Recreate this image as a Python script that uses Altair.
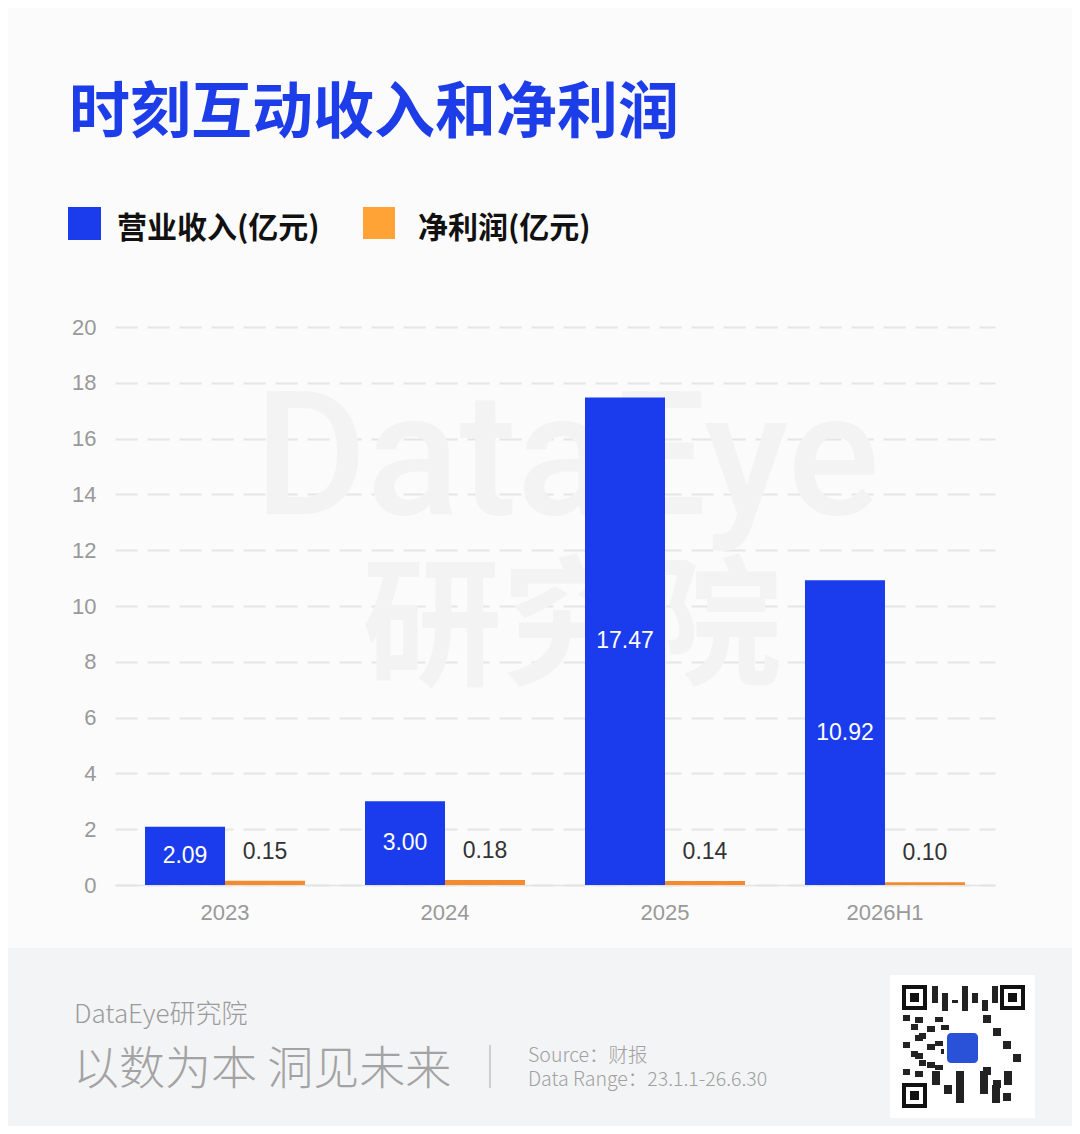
import altair as alt
import pandas as pd

years = ["2023", "2024", "2025", "2026H1"]
revenue = [2.09, 3.00, 17.47, 10.92]
profit = [0.15, 0.18, 0.14, 0.10]
series_names = ["营业收入(亿元)", "净利润(亿元)"]
y_ticks = list(range(0, 21, 2))

title_text = "时刻互动收入和净利润"
footer_brand = "DataEye研究院"
footer_slogan = "以数为本 洞见未来"
footer_source = "Source：财报"
footer_range = "Data Range：23.1.1-26.6.30"

BLUE = "#1a3ced"
ORANGE_BAR = "#f68a2e"
ORANGE_LEG = "#ffa336"
CJK = "Noto Sans CJK SC"
NUM = "Liberation Sans"

rows = []
for y, r, p in zip(years, revenue, profit):
    rows.append({"year": y, "series": series_names[0], "value": r})
    rows.append({"year": y, "series": series_names[1], "value": p})
df = pd.DataFrame(rows)

W, H = 880, 558

x_enc = alt.X("year:N", sort=years,
              scale=alt.Scale(paddingInner=0.2727, paddingOuter=0.1364),
              axis=alt.Axis(title=None, labelAngle=0, labelFontSize=22, labelColor="#999999",
                            labelFont=NUM, labelPadding=17, ticks=False,
                            domainColor="#e3e3e3", domainWidth=1.5, grid=False))
y_enc = alt.Y("value:Q", scale=alt.Scale(domain=[0, 20], nice=False),
              axis=alt.Axis(title=None, values=y_ticks, labelFontSize=22, labelColor="#999999",
                            labelFont=NUM, labelPadding=19, ticks=False, domain=False,
                            grid=True, gridColor="#e6e6e6", gridWidth=2, gridDash=[22, 10]))
xoff = alt.XOffset("series:N", sort=series_names, scale=alt.Scale(paddingInner=0, paddingOuter=0))
color_enc = alt.Color("series:N", sort=series_names,
                      scale=alt.Scale(domain=series_names, range=[BLUE, ORANGE_BAR]), legend=None)

base = alt.Chart(df)

bars = base.mark_bar().encode(x=x_enc, y=y_enc, xOffset=xoff, color=color_enc)

rev_labels = base.transform_filter(alt.datum.series == series_names[0]).transform_calculate(
    mid="datum.value / 2").mark_text(color="white", fontSize=23, font=NUM, baseline="middle").encode(
    x=alt.X("year:N", sort=years), xOffset=xoff, y=alt.Y("mid:Q"),
    text=alt.Text("value:Q", format=".2f"))

pro_labels = base.transform_filter(alt.datum.series == series_names[1]).mark_text(
    color="#333333", fontSize=23, font=NUM, baseline="middle", dy=-29).encode(
    x=alt.X("year:N", sort=years), xOffset=xoff, y=alt.Y("value:Q"),
    text=alt.Text("value:Q", format=".2f"))

one = pd.DataFrame({"k": [0]})
deco = alt.Chart(one)


def txt(s, x, y, size, color, font=CJK, weight="normal", align="left"):
    return deco.mark_text(text=s, fontSize=size, color=color, font=font, fontWeight=weight,
                          align=align, baseline="middle").encode(x=alt.value(x), y=alt.value(y))


def box(x1, x2, y1, y2, fill, **kw):
    return deco.mark_rect(color=fill, **kw).encode(
        x=alt.value(x1), x2=alt.value(x2), y=alt.value(y1), y2=alt.value(y2))


watermark1 = txt("DataEye", 452, 135, 172, "#f3f3f3", font="Roboto", weight=500, align="center")
watermark2 = txt("研究院", 457, 305, 140, "#f3f3f3", weight="bold", align="center")

title = txt(title_text, -46, -212, 61, "#1d3de9", weight="bold")
leg_b = box(-47, -14, -120, -87, BLUE)
leg_b_t = txt(series_names[0], 2, -98, 30, "#111111", weight="bold")
leg_o = box(248, 280, -120, -88, ORANGE_LEG)
leg_o_t = txt(series_names[1], 303, -98, 30, "#111111", weight="bold")

footer_bg = box(-107, 957, 621, 799, "#f3f4f6")
f_brand = txt(footer_brand, -41, 688, 26, "#9b9b9b", weight=300)
f_slogan = txt(footer_slogan, -42, 743, 46, "#a3a3a3", weight=300)
f_line = box(374, 376, 718, 761, "#cfcfcf")
f_src = txt(footer_source, 413, 729, 19.5, "#a0a0a0", weight=300)
f_rng = txt(footer_range, 413, 753, 19.5, "#a0a0a0", weight=300)

qr_bg = box(775, 920, 648, 791, "#ffffff")
qr_parts = [qr_bg]
for fx, fy in [(787, 658), (885, 658), (787, 756)]:
    qr_parts.append(box(fx, fx + 25, fy, fy + 25, "#111111"))
    qr_parts.append(box(fx + 4, fx + 21, fy + 4, fy + 21, "#ffffff"))
    qr_parts.append(box(fx + 8, fx + 17, fy + 8, fy + 17, "#111111"))
for i in range(7):
    qr_parts.append(box(817 + i * 10, 823 + i * 10, 659 + (i % 3) * 7, 676 + (i % 2) * 8, "#222222"))
    qr_parts.append(box(788 + (i % 3) * 8, 795 + (i % 3) * 8, 688 + i * 9, 694 + i * 9, "#222222"))
    qr_parts.append(box(868 + (i % 4) * 10, 876 + (i % 4) * 10, 688 + i * 13, 696 + i * 13, "#222222"))
    qr_parts.append(box(817 + i * 12, 825 + i * 12, 744 + (i % 2) * 14, 758 + (i % 3) * 9, "#222222"))
    qr_parts.append(box(800 + (i % 2) * 12, 808 + (i % 2) * 12, 690 + i * 9, 696 + i * 9, "#222222"))
    qr_parts.append(box(820 + (i % 3) * 6, 828 + (i % 3) * 6, 690 + i * 8, 695 + i * 8, "#222222"))
qr_parts.append(box(829, 866, 703, 739, "#ffffff", cornerRadius=5))
qr_parts.append(box(832, 863, 706, 736, "#2a52d8", cornerRadius=4))

chart = alt.layer(
    footer_bg, watermark1, watermark2, bars, rev_labels, pro_labels,
    title, leg_b, leg_b_t, leg_o, leg_o_t,
    f_brand, f_slogan, f_line, f_src, f_rng, *qr_parts
).properties(
    width=W, height=H,
    autosize=alt.AutoSizeParams(type="none"),
    padding={"left": 107, "top": 319, "right": 77, "bottom": 241},
    background="#fbfbfb",
).configure_view(stroke=None)

chart.save("out.html", embed_options={"renderer": "svg", "actions": False})
